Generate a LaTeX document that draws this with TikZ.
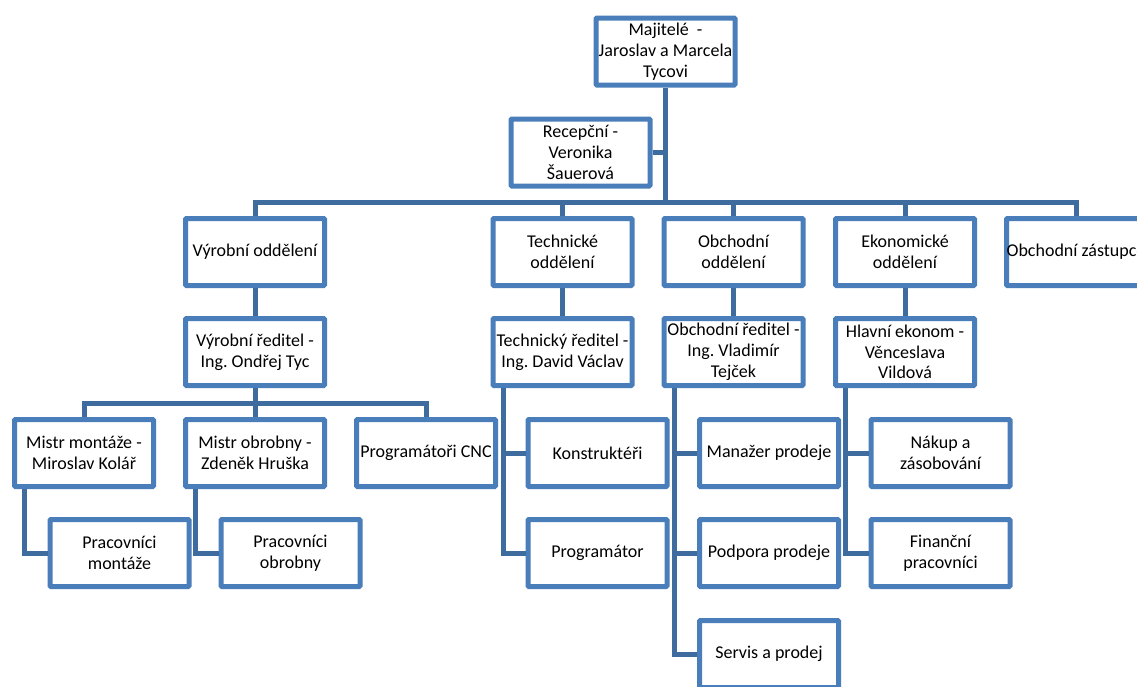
\documentclass[tikz,border=0pt]{standalone}
\usepackage{fontspec}
\setmainfont{Carlito}
\frenchspacing
\definecolor{boxc}{HTML}{4A7EBB}
\definecolor{linec}{HTML}{3F6C9F}
\begin{document}
\begin{tikzpicture}[x=1pt,y=-1pt,
  box/.style={draw=boxc, line width=5pt, fill=white, minimum width=139pt, minimum height=67pt,
    inner sep=0pt, align=center, font=\fontsize{18}{20.8}\selectfont, rounded corners=1pt},
  conn/.style={draw=linec, line width=5pt, line join=miter}]
\useasboundingbox[fill=white] (0,0) rectangle (1137,686);
\coordinate (bus) at (0,202);
\coordinate (vbus) at (0,403);
% boxes
\node[box] (maj) at (665.5,51.5) {Majitelé \ -\\Jaroslav a Marcela\\Tycovi};
\node[box] (rec) at (580.5,152.5) {Recepční -\\Veronika\\Šauerová};
\node[box] (vyr) at (255,252) {Výrobní oddělení};
\node[box] (tech) at (562.5,252) {Technické\\oddělení};
\node[box] (obch) at (733.5,252) {Obchodní\\oddělení};
\node[box] (eko) at (905,252) {Ekonomické\\oddělení};
\node[box] (zast) at (1076,252) {Obchodní zástupce};
\node[box] (vyrr) at (255,352) {Výrobní ředitel -\\Ing. Ondřej Tyc};
\node[box] (techr) at (562.5,352) {Technický ředitel -\\Ing. David Václav};
\node[box] (obchr) at (733.5,352) {Obchodní ředitel -\\Ing. Vladimír\\Tejček};
\node[box] (ekor) at (905,352) {Hlavní ekonom -\\Věnceslava\\Vildová};
\node[box] (mm) at (84,453) {Mistr montáže -\\Miroslav Kolář};
\node[box] (mo) at (255,453) {Mistr obrobny -\\Zdeněk Hruška};
\node[box] (cnc) at (426,453) {Programátoři CNC};
\node[box] (kon) at (597.5,453) {Konstruktéři};
\node[box] (man) at (769,453) {Manažer prodeje};
\node[box] (nak) at (940.5,453) {Nákup a\\zásobování};
\node[box] (pm) at (119.5,553) {Pracovníci\\montáže};
\node[box] (po) at (290.5,553) {Pracovníci\\obrobny};
\node[box] (prog) at (597.5,553) {Programátor};
\node[box] (pod) at (769,553) {Podpora prodeje};
\node[box] (fin) at (940.5,553) {Finanční\\pracovníci};
\node[box] (serv) at (769,654) {Servis a prodej};
% connectors
\draw[conn] (maj.south) -- (maj.south |- bus);
\draw[conn] (rec.east) -- (maj.south |- rec.east);
\draw[conn] (vyr.north) -- (vyr.north |- bus) -- (zast.north |- bus) -- (zast.north);
\draw[conn] (tech.north) -- (tech.north |- bus);
\draw[conn] (obch.north) -- (obch.north |- bus);
\draw[conn] (eko.north) -- (eko.north |- bus);
\draw[conn] (vyr.south) -- (vyrr.north);
\draw[conn] (tech.south) -- (techr.north);
\draw[conn] (obch.south) -- (obchr.north);
\draw[conn] (eko.south) -- (ekor.north);
\draw[conn] (vyrr.south) -- (vyrr.south |- vbus);
\draw[conn] (mm.north) -- (mm.north |- vbus) -- (cnc.north |- vbus) -- (cnc.north);
\draw[conn] (mo.north) -- (mo.north |- vbus);
\draw[conn] ([xshift=12.5pt]mm.south west) |- (pm.west);
\draw[conn] ([xshift=12.5pt]mo.south west) |- (po.west);
\draw[conn] ([xshift=12.5pt]techr.south west) |- (kon.west);
\draw[conn] ([xshift=12.5pt]techr.south west) |- (prog.west);
\draw[conn] ([xshift=12.5pt]obchr.south west) |- (man.west);
\draw[conn] ([xshift=12.5pt]obchr.south west) |- (pod.west);
\draw[conn] ([xshift=12.5pt]obchr.south west) |- (serv.west);
\draw[conn] ([xshift=12.5pt]ekor.south west) |- (nak.west);
\draw[conn] ([xshift=12.5pt]ekor.south west) |- (fin.west);
\end{tikzpicture}
\end{document}
